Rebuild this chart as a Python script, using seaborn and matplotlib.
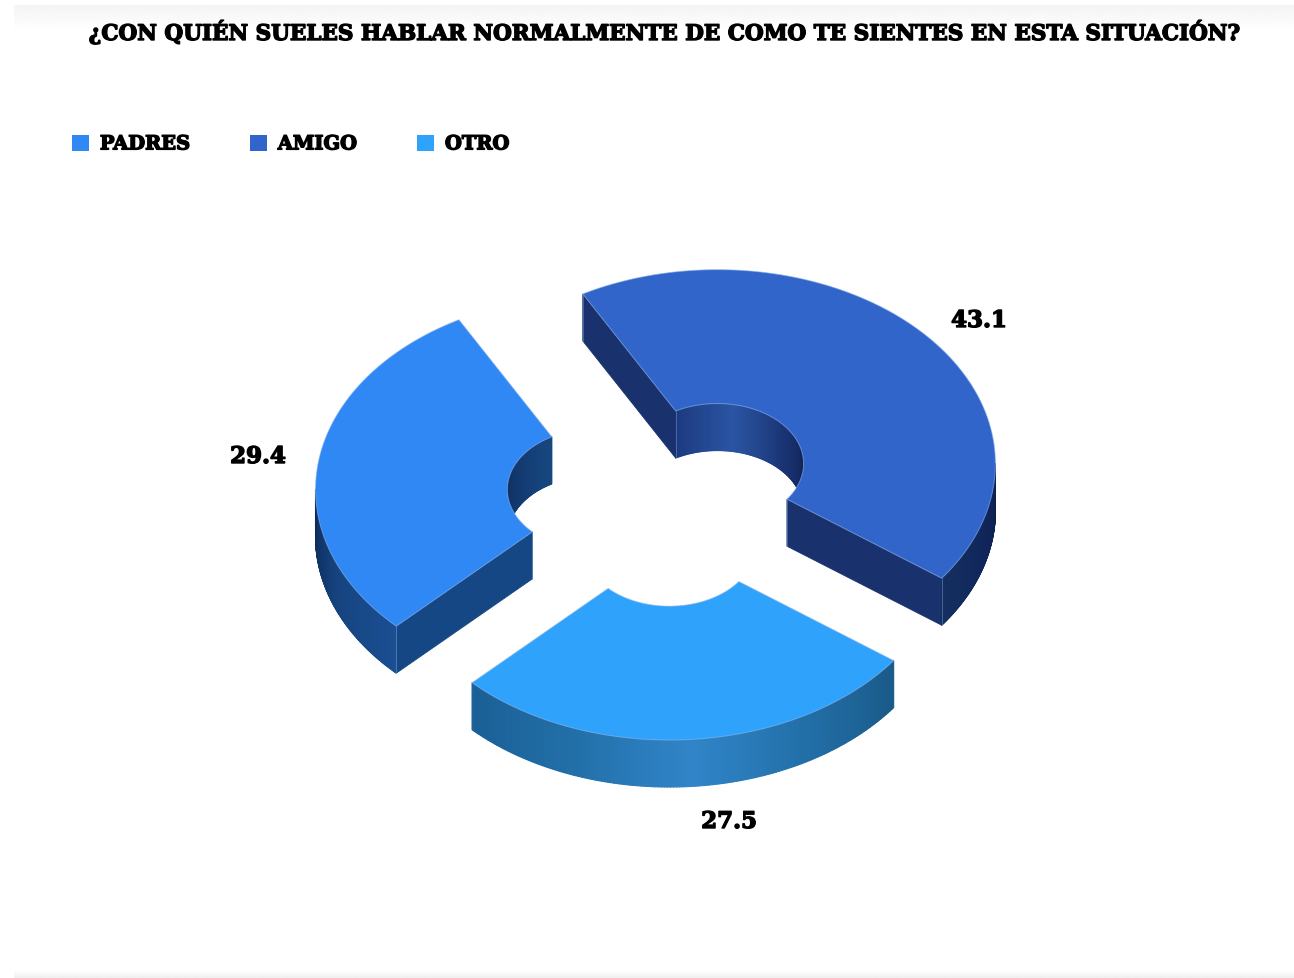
import numpy as np
import matplotlib
matplotlib.use("Agg")
import matplotlib.pyplot as plt
import matplotlib.patheffects as pe
from matplotlib.collections import PolyCollection
from matplotlib.colors import LinearSegmentedColormap
from matplotlib.patches import Patch, Polygon
import seaborn as sns

# ---- data ----
categories = ["PADRES", "AMIGO", "OTRO"]
values = [29.4, 43.1, 27.5]
title = "¿CON QUIÉN SUELES HABLAR NORMALMENTE DE COMO TE SIENTES EN ESTA SITUACIÓN?"
top_colors = ["#2F88F3", "#3265C9", "#2FA3FB"]

# ---- style ----
sns.set_theme(style="white")
plt.rcParams["font.family"] = ["DejaVu Serif", "DejaVu Sans"]
palette = sns.color_palette(top_colors)

# ---- projection of the pie, in figure pixels ----
W, H = 1294, 979
CX, CY = 664, 497.5        # pie centre
RX, RY = 278, 194          # outer ellipse
HOLE = 0.31                # hole ratio
EXPLODE = 0.256            # explosion ratio
DEPTH = 47                 # thickness
FIRST_ANGLE = 225.2 - 360  # clockwise from north where the first slice starts

outer_stops = {
    "PADRES": ["#1A4F92", "#16437F", "#0D2B5A"],
    "AMIGO": ["#0E1F4C", "#10265C", "#14305F"],
    "OTRO": ["#195A88", "#226FA8", "#3085C8", "#226FA8", "#1A5F96"],
}
inner_stops = {
    "PADRES": ["#0E2C5C", "#123A70", "#17477F"],
    "AMIGO": ["#1D3A80", "#2A55A3", "#1A3474", "#0F2255"],
    "OTRO": ["#1A5E96", "#1A5E96"],
}
cut_stops = {"PADRES": "#164785", "AMIGO": "#19316C", "OTRO": "#1A5E96"}
EDGE = "#8FB6F0"

fig = plt.figure(figsize=(W / 100, H / 100), dpi=100, facecolor="white")
ax = fig.add_axes([0, 0, 1, 1])
ax.axis("off")
sns.despine(ax=ax, left=True, bottom=True)

# faint frame of the pasted picture
top_band = np.linspace(0.955, 1.0, 30)[:, None]
ax.imshow(top_band, extent=(14, W, 32, 6), cmap="gray", vmin=0, vmax=1, aspect="auto", zorder=0)
ax.imshow(np.linspace(1.0, 0.945, 8)[:, None], extent=(14, W, 979, 971), cmap="gray",
          vmin=0, vmax=1, aspect="auto", zorder=0)
ax.set_xlim(0, W)
ax.set_ylim(H, 0)


def ring_xy(cx, cy, t, ratio=1.0, dy=0.0):
    r = np.radians(t)
    return np.column_stack([cx + RX * ratio * np.sin(r), cy - RY * ratio * np.cos(r) + dy])


def wall(cx, cy, t0, t1, ratio, stops, z):
    if t1 <= t0:
        return
    t = np.linspace(t0, t1, 160)
    cmap = LinearSegmentedColormap.from_list("wall", stops)
    top = ring_xy(cx, cy, t, ratio)
    low = ring_xy(cx, cy, t, ratio, DEPTH)
    quads = [[top[i], top[i + 1], low[i + 1], low[i]] for i in range(len(t) - 1)]
    cols = cmap(np.linspace(0, 1, len(quads)))
    ax.add_collection(PolyCollection(quads, facecolors=cols, edgecolors=cols, linewidths=0.8, zorder=z))


start = FIRST_ANGLE
total = sum(values)
for name, val, col in zip(categories, values, palette):
    sweep = 360 * val / total
    t0, t1 = start, start + sweep
    start = t1
    mid = np.radians((t0 + t1) / 2)
    cx = CX + RX * EXPLODE * np.sin(mid)
    cy = CY - RY * EXPLODE * np.cos(mid)

    # inner wall: part of the hole that faces the viewer (north side)
    for k in range(-1, 2):
        a, b = max(t0, -90 + 360 * k), min(t1, 90 + 360 * k)
        wall(cx, cy, a, b, HOLE, inner_stops[name], 2)

    # cut faces
    for t, visible in ((t0, np.sin(np.radians(t0)) < 0), (t1, np.sin(np.radians(t1)) > 0)):
        if visible:
            tt = np.array([t, t])
            up = ring_xy(cx, cy, tt, np.array([HOLE, 1.0]))
            dn = up + [0, DEPTH]
            ax.add_patch(Polygon(np.vstack([up, dn[::-1]]), closed=True, fc=cut_stops[name],
                                 ec=cut_stops[name], lw=0.6, zorder=3))

    # outer wall: south side
    for k in range(-1, 2):
        a, b = max(t0, 90 + 360 * k), min(t1, 270 + 360 * k)
        wall(cx, cy, a, b, 1.0, outer_stops[name], 4)

    # corner highlight lines
    for t, visible in ((t0, np.sin(np.radians(t0)) < 0), (t1, np.sin(np.radians(t1)) > 0)):
        if visible:
            for ratio in (1.0, HOLE):
                p = ring_xy(cx, cy, np.array([t]), ratio)[0]
                ax.plot([p[0], p[0]], [p[1], p[1] + DEPTH], color=EDGE, lw=0.6, alpha=0.45, zorder=5)

    # top face
    t = np.linspace(t0, t1, 240)
    poly = np.vstack([ring_xy(cx, cy, t), ring_xy(cx, cy, t[::-1], HOLE)])
    ax.add_patch(Polygon(poly, closed=True, fc=col, ec=(0.56, 0.71, 0.94, 0.6), lw=0.7, zorder=6))

# value labels
label_pos = {"PADRES": (258, 458), "AMIGO": (979, 322), "OTRO": (729, 823)}
stroke = [pe.withStroke(linewidth=1.0, foreground="black")]
for name, val in zip(categories, values):
    x, y = label_pos[name]
    ax.text(x, y, f"{val:.1f}", ha="center", va="center", fontsize=16.5, fontweight="bold",
            color="black", path_effects=stroke, zorder=8)

# title
ax.text(664, 33, title, ha="center", va="center", fontsize=15.5, fontweight="bold",
        color="black", path_effects=stroke, zorder=8)

# legend
handles = [Patch(facecolor=c, edgecolor="none", label=n) for c, n in zip(palette, categories)]
leg = ax.legend(handles=handles, ncol=3, frameon=False, loc="center left",
                bbox_to_anchor=(62 / W, 1 - 145 / H), borderaxespad=0, borderpad=0.5,
                handlelength=0.9, handleheight=0.9, handletextpad=0.55, columnspacing=3.05,
                labelcolor="black",
                prop={"family": "DejaVu Serif", "weight": "bold", "size": 14})
for txt in leg.get_texts():
    txt.set_path_effects(stroke)

fig.savefig("out.png", dpi=100, facecolor="white")
